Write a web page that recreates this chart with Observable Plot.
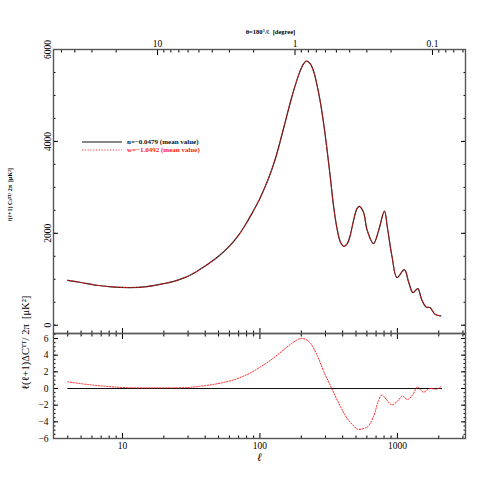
<!DOCTYPE html>
<html>
<head>
<meta charset="utf-8">
<script src="https://cdn.jsdelivr.net/npm/d3@7"></script>
<script src="https://cdn.jsdelivr.net/npm/@observablehq/plot@0.6"></script>
<style>
  html, body { margin: 0; padding: 0; background: #fff; }
  #wrap { position: relative; width: 491px; height: 491px; overflow: hidden; background: #fff; }
  #wrap > * { position: absolute; left: 0; }
</style>
</head>
<body>
<div id="wrap"></div>
<script>
// ---------- data ----------
const ellTT = [4, 5, 6.5, 8, 11.4, 15, 20, 24, 28, 32, 36, 42, 50, 60, 70, 80, 90, 100, 115, 130, 150, 170, 190, 205, 218, 232, 246, 260, 275, 291, 307, 325, 344, 364, 385, 409, 432, 454, 480, 508, 528, 566, 603, 670, 731, 805, 845, 915, 993, 1123, 1210, 1297, 1409, 1500, 1616, 1727, 1878, 2066];
const clTT  = [978, 930, 870, 840, 820, 840, 906, 960, 1030, 1110, 1200, 1330, 1500, 1720, 1960, 2230, 2500, 2760, 3180, 3640, 4330, 4950, 5420, 5660, 5750, 5690, 5520, 5230, 4860, 4380, 3850, 3224, 2572, 2102, 1811, 1717, 1776, 1957, 2283, 2537, 2587, 2463, 2065, 1776, 2065, 2485, 2137, 1485, 1037, 1210, 930, 711, 797, 560, 398, 384, 239, 202];

const ellDiff = [4, 5.56, 7.35, 10, 17, 29.7, 37.1, 46.4, 55, 65, 75, 86, 100, 115, 130, 150, 170, 185, 198, 215, 234, 262, 292, 333, 386, 432, 483, 512, 605, 676, 720, 770, 830, 910, 1003, 1083, 1187, 1286, 1403, 1480, 1559, 1650, 1741, 1890, 1960, 2068];
const dCl     = [0.8, 0.48, 0.28, 0.12, 0.08, 0.12, 0.28, 0.5, 0.75, 1.05, 1.45, 1.9, 2.55, 3.2, 3.85, 4.7, 5.4, 5.8, 6.0, 5.9, 5.4, 3.9, 2.0, 0, -2.2, -3.6, -4.52, -4.88, -4.6, -3.2, -1.7, -0.78, -1.3, -1.95, -1.52, -0.92, -1.32, -0.8, 0.2, -0.2, -0.44, -0.15, 0, -0.08, -0.05, 0.24];

const zeroEll = [4, 2100];
const zeroVal = [0, 0];

const ellMajor = [10, 100, 1000];
const ellMinor = [4, 5, 6, 7, 8, 9, 20, 30, 40, 50, 60, 70, 80, 90, 200, 300, 400, 500, 600, 700, 800, 900, 2000, 3000];
const thetaMajor = [10, 1, 0.1];
const thetaMinor = [50, 40, 30, 20, 9, 8, 7, 6, 5, 4, 3, 2, 0.9, 0.8, 0.7, 0.6, 0.5, 0.4, 0.3, 0.2, 0.09, 0.08, 0.07, 0.06];
const clMajor = [0, 2000, 4000, 6000];
const clMinor = d3.range(0, 6001, 500);
const dMajor = [-6, -4, -2, 0, 2, 4, 6];
const dMinor = d3.range(-6, 6.51, 0.5);

const legendLabels = ["n=\u22120.0479 (mean value)", "w=\u22121.0492 (mean value)"];
const titleTop = "\u03b8=180\u00b0/\u2113  [degree]";
const yLabelTop = "\u2113(\u2113+1) C\u2097\u1d40\u1d40/ 2\u03c0  [\u03bcK\u00b2]";
const yLabelBottom = "\u2113(\u2113+1)\u0394C\u1d40\u1d40/ 2\u03c0  [\u03bcK\u00b2]";
const xLabel = "\u2113";

// ---------- tables ----------
const tt = ellTT.map((l, i) => ({l, v: clTT[i]}));
const diff = ellDiff.map((l, i) => ({l, v: dCl[i]}));
const zero = zeroEll.map((l, i) => ({l, v: zeroVal[i]}));
const thetaMajorL = thetaMajor.map(t => 180 / t);
const thetaMinorL = thetaMinor.map(t => 180 / t);

const W = 491;
const serif = "'Liberation Serif', 'DejaVu Serif', serif";
const frameStroke = "#555";
const common = {
  width: W,
  marginLeft: 53,
  marginRight: 26,
  x: {type: "log", domain: [3.15, 3130]},
  style: {fontFamily: serif, fontSize: "9.5px", background: "transparent", overflow: "visible", color: "#000"}
};
const blank = () => "";

// ---------- upper panel ----------
const upperPlot = Plot.plot({
  ...common,
  height: 333,
  marginTop: 49,
  marginBottom: 0,
  y: {domain: [-180, 6000]},
  marks: [
    Plot.axisX(ellMajor, {anchor: "bottom", tickSize: -5, tickFormat: blank, label: null}),
    Plot.axisX(ellMinor, {anchor: "bottom", tickSize: -2.5, tickFormat: blank, label: null}),
    Plot.axisX(thetaMajorL, {anchor: "top", tickSize: -5, tickFormat: blank, label: null}),
    Plot.axisX(thetaMinorL, {anchor: "top", tickSize: -2.5, tickFormat: blank, label: null}),
    Plot.axisX(thetaMajorL, {anchor: "top", tickSize: 0, tickPadding: 3, tickFormat: l => d3.format("~g")(+(180 / l).toPrecision(3)), label: null}),
    Plot.axisY(clMajor, {anchor: "left", tickSize: -5, tickFormat: blank, label: null}),
    Plot.axisY(clMinor, {anchor: "left", tickSize: -2.5, tickFormat: blank, label: null}),
    Plot.axisY(clMajor, {anchor: "right", tickSize: -5, tickFormat: blank, label: null}),
    Plot.axisY(clMinor, {anchor: "right", tickSize: -2.5, tickFormat: blank, label: null}),
    Plot.text(clMajor, {y: d => d, text: d => String(d), frameAnchor: "left", dx: -3, rotate: -90, textAnchor: "middle", lineAnchor: "bottom", fontSize: 9.5}),
    Plot.frame({stroke: frameStroke, strokeWidth: 1.4}),
    Plot.line(tt, {x: "l", y: "v", stroke: "#111", strokeWidth: 1.2, curve: "catmull-rom"}),
    Plot.line(tt, {x: "l", y: "v", stroke: "#ff2020", strokeWidth: 0.9, strokeDasharray: "1.2,1.6", curve: "catmull-rom"}),
    Plot.text([titleTop], {frameAnchor: "top", dx: 11, dy: -20, fontSize: 6.5, fontWeight: "bold"}),
    Plot.text([yLabelTop], {frameAnchor: "left", dx: -43, dy: 30, rotate: -90, fontSize: 6, fontWeight: "bold"})
  ]
});

// ---------- lower panel ----------
const lowerPlot = Plot.plot({
  ...common,
  height: 159,
  marginTop: 1,
  marginBottom: 53,
  y: {domain: [-6, 6.6]},
  marks: [
    Plot.axisX(ellMajor, {anchor: "top", tickSize: -5, tickFormat: blank, label: null}),
    Plot.axisX(ellMinor, {anchor: "top", tickSize: -2.5, tickFormat: blank, label: null}),
    Plot.axisX(ellMajor, {anchor: "bottom", tickSize: -5, tickFormat: blank, label: null}),
    Plot.axisX(ellMinor, {anchor: "bottom", tickSize: -2.5, tickFormat: blank, label: null}),
    Plot.axisX(ellMajor, {anchor: "bottom", tickSize: 0, tickPadding: 4, tickFormat: d => String(d), label: null}),
    Plot.axisY(dMajor, {anchor: "left", tickSize: -5, tickFormat: blank, label: null}),
    Plot.axisY(dMinor, {anchor: "left", tickSize: -2.5, tickFormat: blank, label: null}),
    Plot.axisY(dMajor, {anchor: "right", tickSize: -5, tickFormat: blank, label: null}),
    Plot.axisY(dMinor, {anchor: "right", tickSize: -2.5, tickFormat: blank, label: null}),
    Plot.axisY(dMajor, {anchor: "left", tickSize: 0, tickPadding: 5, label: null}),
    Plot.frame({stroke: frameStroke, strokeWidth: 1.4}),
    Plot.line(zero, {x: "l", y: "v", stroke: "#111", strokeWidth: 1}),
    Plot.line(diff, {x: "l", y: "v", stroke: "#ff2020", strokeWidth: 1, strokeDasharray: "1.2,1.6", curve: "catmull-rom"}),
    Plot.text([xLabel], {frameAnchor: "bottom", dy: 22, fontSize: 11.5, fontStyle: "italic"}),
    Plot.text([yLabelBottom], {frameAnchor: "left", dx: -28, dy: 4, rotate: -90, fontSize: 10.5})
  ]
});

const wrap = document.getElementById("wrap");
upperPlot.style.top = "0px";
lowerPlot.style.top = "332px";
wrap.appendChild(upperPlot);
wrap.appendChild(lowerPlot);

// ---------- legend overlay ----------
const leg = d3.select(wrap).append("svg")
  .attr("width", 200).attr("height", 30)
  .style("left", "70px").style("top", "130px")
  .style("font-family", serif);
leg.append("line").attr("x1", 12).attr("x2", 52).attr("y1", 12).attr("y2", 12)
  .attr("stroke", "#111").attr("stroke-width", 1.2);
leg.append("line").attr("x1", 12).attr("x2", 52).attr("y1", 20).attr("y2", 20)
  .attr("stroke", "#ff2020").attr("stroke-width", 0.9).attr("stroke-dasharray", "1.2,1.6");
leg.append("text").attr("x", 57).attr("y", 12).attr("dy", "0.32em")
  .attr("font-size", 7).attr("font-weight", "bold").attr("fill", "#111").text(legendLabels[0]);
leg.append("text").attr("x", 57).attr("y", 20).attr("dy", "0.32em")
  .attr("font-size", 7).attr("font-weight", "bold").attr("fill", "#ff2020").text(legendLabels[1]);
</script>
</body>
</html>
